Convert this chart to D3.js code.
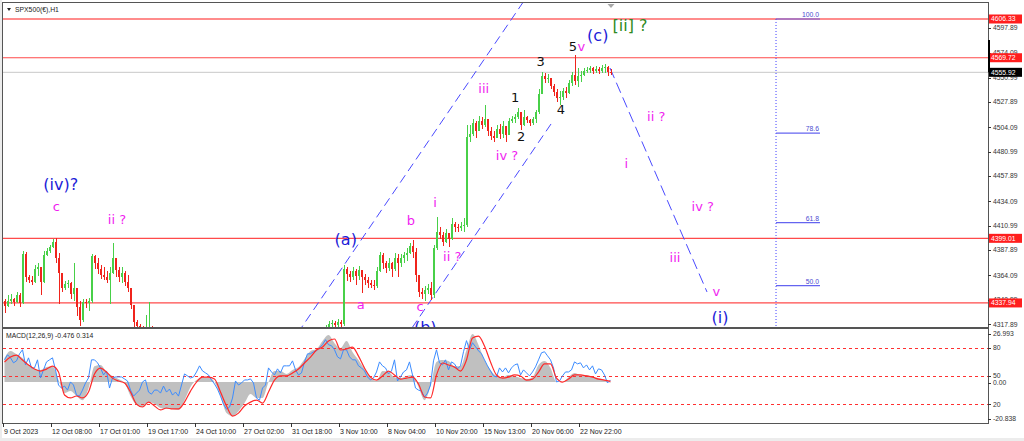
<!DOCTYPE html>
<html><head><meta charset="utf-8">
<script src="https://cdn.jsdelivr.net/npm/d3@7"></script>
<style>html,body{margin:0;padding:0;background:#fff;overflow:hidden}</style>
</head><body>
<svg id="c" width="1024" height="441"></svg>
<script>
// ---------------- DATA ----------------
const chartTitle = "SPX500(€),H1";
const macdTitle = "MACD(12,26,9) -0.476 0.314";
const xTickLabels = ["9 Oct 2023","12 Oct 08:00","17 Oct 01:00","19 Oct 17:00","24 Oct 10:00","27 Oct 02:00","31 Oct 18:00","3 Nov 10:00","8 Nov 04:00","10 Nov 20:00","15 Nov 13:00","20 Nov 06:00","22 Nov 22:00"];
const barsPerTick = 64;      // H1 bars between time labels
const barsPerCandle = 4;     // each drawn candle = 4 H1 bars
const priceTicks = [4317.89,4340.99,4364.09,4387.89,4410.99,4434.09,4457.89,4480.99,4504.09,4527.89,4550.99,4574.09,4597.89];
const hLevels = [4606.33,4569.72,4399.01,4337.94];
const bidPrice = 4555.92;

const closes = [
4335,4340,4342,4339,4345,4338,4384,4362,4360,4358,
4370,4372,4358,4383,4387,4391,4396,4380,4366,4352,
4356,4357,4346,4352,4334,4322,4339,4338,4340,4382,
4376,4370,4364,4362,4360,4366,4380,4369,4362,4366,
4358,4352,4336,4320,4316,4310,4306,4312,4314,4300,
4295,4290,4285,4275,4270,4265,4262,4258,4250,4245,
4240,4242,4248,4255,4252,4245,4235,4225,4215,4200,
4190,4180,4170,4160,4150,4140,4135,4145,4150,4140,
4130,4135,4145,4160,4165,4160,4170,4180,4185,4175,
4190,4200,4210,4215,4225,4235,4245,4255,4265,4275,
4285,4290,4296,4300,4305,4308,4312,4314,4318,4319,
4317,4320,4318,4370,4365,4362,4368,4363,4369,4362,
4360,4357,4355,4354,4368,4383,4376,4371,4376,4370,
4380,4376,4380,4383,4385,4392,4386,4364,4348,4346,
4350,4352,4345,4390,4405,4402,4396,4404,4398,4413,
4410,4409,4411,4412,4495,4498,4508,4500,4510,4506,
4512,4500,4496,4494,4502,4498,4505,4497,4510,4512,
4514,4518,4506,4514,4511,4508,4512,4518,4535,4552,
4550,4551,4543,4537,4532,4533,4538,4536,4546,4553,
4548,4552,4553,4557,4558,4560,4557,4559,4557,4560,
4561,4556,4555.92];
const highs = [
4342,4345,4346,4343,4348,4347,4387,4386,4364,4363,
4374,4376,4372,4387,4390,4393,4398,4399,4385,4366,
4359,4360,4358,4376,4352,4340,4342,4342,4343,4384,
4383,4380,4374,4372,4368,4372,4395,4380,4372,4372,
4368,4364,4352,4336,4322,4318,4316,4327,4339,4316,
4302,4297,4292,4287,4277,4272,4268,4264,4260,4252,
4247,4246,4252,4258,4258,4254,4247,4237,4227,4217,
4202,4192,4182,4172,4162,4152,4142,4148,4154,4152,
4142,4138,4148,4162,4168,4167,4172,4182,4188,4187,
4192,4202,4212,4218,4227,4237,4247,4257,4267,4277,
4287,4292,4298,4302,4307,4310,4314,4317,4321,4322,
4321,4323,4322,4374,4372,4368,4372,4370,4373,4368,
4365,4362,4360,4360,4372,4386,4385,4378,4380,4377,
4385,4384,4384,4386,4390,4395,4397,4390,4364,4352,
4354,4356,4358,4393,4419,4410,4405,4408,4404,4418,
4414,4413,4414,4418,4506,4506,4512,4510,4515,4514,
4525,4512,4504,4500,4506,4507,4510,4505,4513,4515,
4517,4522,4518,4520,4515,4512,4514,4520,4540,4556,
4555,4554,4551,4545,4540,4538,4541,4542,4549,4556,
4572,4560,4557,4560,4561,4562,4561,4562,4561,4563,
4564,4562,4559];
const lows = [
4328,4334,4337,4335,4338,4334,4337,4358,4357,4355,
4357,4363,4345,4357,4382,4385,4390,4376,4337,4348,
4350,4352,4342,4340,4326,4316,4320,4333,4330,4338,
4370,4365,4361,4360,4357,4337,4365,4362,4358,4357,
4354,4348,4332,4312,4308,4302,4300,4303,4300,4294,
4290,4284,4279,4270,4264,4259,4256,4252,4244,4239,
4234,4236,4240,4246,4246,4238,4228,4218,4208,4193,
4184,4174,4164,4154,4144,4134,4128,4132,4140,4134,
4124,4126,4133,4143,4158,4154,4158,4168,4176,4170,
4172,4186,4196,4206,4212,4222,4232,4242,4252,4262,
4272,4282,4288,4294,4298,4303,4306,4309,4311,4315,
4314,4315,4315,4316,4359,4358,4360,4355,4360,4347,
4355,4352,4352,4350,4352,4367,4370,4366,4368,4362,
4368,4362,4372,4376,4378,4384,4380,4358,4344,4342,
4340,4346,4341,4343,4388,4398,4392,4395,4391,4397,
4405,4405,4406,4405,4410,4490,4496,4494,4500,4502,
4504,4496,4492,4490,4494,4493,4494,4490,4497,4508,
4508,4512,4501,4505,4508,4505,4506,4508,4517,4535,
4546,4546,4540,4534,4528,4525,4530,4532,4535,4543,
4544,4542,4547,4552,4555,4555,4554,4555,4554,4555,
4555,4552,4553];
const firstOpen = 4340;

// MACD panel (values every 8 H1 bars)
const macdStep = 8;
const macdMain = [
12.2,15.8,14.2,12.2,8.7,6.6,6.1,7.6,8.1,1.0,
-5.6,-4.6,-7.1,-9.2,-3.1,8.1,8.7,5.1,3.1,1.5,
-0.5,-7.1,-11.7,-12.7,-10.2,-11.2,-13.2,-13.7,-13.7,-14.2,
-9.2,-2.5,1.0,2.5,2.5,0,-7.1,-15.8,-17.3,-14.8,
-10.7,-6.1,-8.1,-8.1,0,5.6,5.6,4.1,6.1,7.6,
11.7,15.8,16.8,20.9,23.9,19.8,17.3,20.9,15.3,11.2,
6.6,2.5,0.5,5.6,5.1,2.5,2.0,3.1,3.6,-2.5,
-9.2,-2.0,10.2,11.2,10.7,8.1,8.1,16.3,24.4,18.8,
11.2,6.1,3.1,2.5,3.6,3.1,2.0,1.5,2.5,8.7,
10.7,7.1,0,0,2.5,4.6,3.6,3.6,2.5,2.0,
1.0,-0.476];
const macdSignal = [
10.2,12.7,13.7,11.2,8.7,6.6,5.6,6.6,8.1,5.1,
-6.6,-8.1,-7.1,-8.1,-5.1,4.1,7.1,5.1,2.0,0.5,
-0.5,-5.1,-11.2,-12.7,-10.2,-12.2,-14.2,-13.2,-13.7,-13.7,
-10.2,-4.6,0,2.5,2.5,1.5,-5.1,-12.2,-17.3,-15.8,
-12.2,-10.2,-9.2,-10.7,-5.1,1.0,3.1,3.1,4.6,6.6,
9.7,12.7,16.3,17.8,20.9,21.9,16.3,16.8,17.8,13.2,
7.1,2.5,1.0,3.1,5.6,3.6,1.5,2.0,2.5,-1.0,
-7.6,-8.1,3.6,9.7,8.7,7.6,5.6,11.2,22.4,23.4,
18.3,10.2,3.6,2.0,2.5,3.6,3.1,1.0,1.5,5.1,
9.2,9.2,2.0,0,1.5,3.6,3.6,3.1,2.5,1.5,
1.0,0.314];
// oscillator (0-100) every 4 H1 bars
const oscValues = [
67.2,72.6,69.3,64.0,66.1,73.6,77.9,61.8,69.3,58.6,
58.6,67.2,47.9,56.5,65.0,67.2,69.3,56.5,40.4,37.2,
39.3,35.0,43.7,40.4,29.7,28.6,35.0,42.6,47.9,67.2,
67.2,64.0,58.6,51.1,55.4,37.2,47.9,49.0,49.0,49.0,
46.9,44.7,35.0,28.6,31.8,35.0,43.7,45.8,32.9,30.7,
35.0,35.0,31.8,39.3,32.9,36.1,29.7,32.9,28.6,40.4,
52.2,50.1,47.9,49.0,54.3,60.8,55.4,53.3,51.1,45.8,
41.5,36.1,28.6,20.0,14.7,16.8,26.5,44.7,40.4,42.6,
45.8,45.8,46.9,42.6,26.5,24.3,37.2,40.4,58.6,54.3,
51.1,57.6,53.3,60.8,60.8,60.8,66.1,56.5,51.1,53.3,
65.0,73.6,73.6,75.8,76.8,80.1,83.3,88.6,83.3,82.2,
77.9,70.4,68.2,77.9,77.9,70.4,67.2,67.2,60.8,58.6,
55.4,49.0,45.8,47.9,54.3,65.0,60.8,58.6,52.2,55.4,
67.2,44.7,49.0,54.3,56.5,65.0,51.1,37.2,35.0,34.0,
27.5,31.8,40.4,66.1,77.9,64.0,61.8,67.2,56.5,65.0,
62.9,57.6,60.8,75.8,87.6,77.9,85.4,81.2,76.8,73.6,
67.2,60.8,55.4,50.1,49.0,58.6,54.3,58.6,53.3,58.6,
61.8,62.9,51.1,56.5,53.3,50.1,54.3,59.7,67.2,74.7,
75.8,71.5,67.2,58.6,43.7,44.7,50.1,54.3,54.3,56.5,
65.0,62.9,64.0,58.6,61.8,56.5,60.8,52.2,57.6,56.5,
51.1,42.6,45.8];
const oscLevels = [80,50,20];
const macdMax = 26.993, macdMin = -20.838;

// wave annotations (H1 bar index, price)
const waveText  = ["(iv)?","c","ii ?","(a)","a","b","c","(b)","i","ii ?","iii","iv ?","1","2","3","4","5","v","(c)","[ii] ?","i","ii ?","iii","iv ?","v","(i)"];
const waveBar   = [77,71,152,457,477,544,556,563,576,599,641,672,683,691,717,744,760,771,793,836,831,871,896,933,951,956];
const wavePrice = [4449.4,4428.6,4416.4,4397.4,4336.0,4415.4,4334.1,4315,4432.4,4381.4,4540.2,4476.8,4531.7,4494.8,4565.7,4520.3,4579.9,4579.9,4590.3,4599.7,4469.3,4513.7,4380.4,4428.6,4348.3,4323.7];
const waveDegree = ["B","m","m","B","m","m","m","B","m","m","m","m","k","k","k","k","k","m","B","G","m","m","m","m","m","B"];

// trend lines (H1 bar, price)
const channelLines = [
  [[393,4309.5],[700,4629]],
  [[545.3,4314.3],[730.7,4507.1]]
];
const projectionLine = [[809.3,4560.0],[938.7,4348.3]];

// Fibonacci
const fibLevels = [50.0,61.8,78.6,100.0];
const fibLow = 4102.3, fibHigh = 4606.33;
const fibBar = 1030.7, fibBarEnd = 1089.3;

// ---------------- DRAW ----------------
const svg = d3.select("#c");
const L=3, R=988, T=3, B=327, MT=329, MB=423;
const totalBars = 1313.33;
const x = d3.scaleLinear().domain([0,totalBars]).range([L,R]);
const y = d3.scaleLinear().domain([4315.2,4621.45]).range([B,T]);
const yM = d3.scaleLinear().domain([macdMin,macdMax]).range([MB,MT]);
const yO = d3.scaleLinear().domain([0,100]).range([MB,MT]);
const AX = "'Liberation Sans', Arial, sans-serif";
const LBL = "'DejaVu Sans', Verdana, sans-serif";

svg.append("rect").attr("width",1024).attr("height",441).attr("fill","#fff");
svg.append("rect").attr("x",0).attr("y",438).attr("width",1024).attr("height",3).attr("fill","#ececec");
svg.append("rect").attr("x",0).attr("y",0).attr("width",2).attr("height",438).attr("fill","#ececec");

const defs = svg.append("defs");
defs.append("clipPath").attr("id","cm").append("rect").attr("x",L).attr("y",T).attr("width",R-L).attr("height",B-T);
defs.append("clipPath").attr("id","cd").append("rect").attr("x",L).attr("y",MT).attr("width",R-L).attr("height",MB-MT);

const gm = svg.append("g").attr("clip-path","url(#cm)");

// horizontal red levels
gm.selectAll("line.hl").data(hLevels).join("line")
  .attr("x1",L).attr("x2",R)
  .attr("y1",d=>y(d)).attr("y2",d=>y(d))
  .attr("stroke",(d,i)=> i===0 ? "#ff8c8c" : "#ff4a4a")
  .attr("stroke-width",(d,i)=> i===0 ? 2 : 1.2);
// bid line
gm.append("line").attr("x1",L).attr("x2",R).attr("y1",y(bidPrice)).attr("y2",y(bidPrice))
  .attr("stroke","#c8c8c8").attr("stroke-width",1);

// fibonacci
gm.append("line").attr("x1",x(fibBar)).attr("x2",x(fibBar)).attr("y1",y(fibHigh)).attr("y2",B)
  .attr("stroke","#3c3cff").attr("stroke-dasharray","1,2").attr("stroke-width",1);
const fibPrice = p => fibLow + (fibHigh-fibLow)*p/100;
gm.selectAll("line.fib").data(fibLevels).join("line")
  .attr("x1",x(fibBar)).attr("x2",x(fibBarEnd))
  .attr("y1",d=>y(fibPrice(d))).attr("y2",d=>y(fibPrice(d)))
  .attr("stroke","#6464f0").attr("stroke-width",1.2);
gm.selectAll("text.fib").data(fibLevels).join("text")
  .attr("x",x(fibBarEnd)-1).attr("y",d=>y(fibPrice(d))-2)
  .attr("text-anchor","end").attr("font-family",AX).attr("font-size",6.8)
  .attr("fill","#4b4bd0").text(d=>d.toFixed(1));

// channel & projection lines
const ln = d3.line().x(d=>x(d[0])).y(d=>y(d[1]));
gm.selectAll("path.ch").data(channelLines).join("path")
  .attr("d",ln).attr("fill","none").attr("stroke","#4a4aff").attr("stroke-width",1).attr("stroke-dasharray","9,5");
gm.append("path").attr("d",ln(projectionLine)).attr("fill","none")
  .attr("stroke","#4a4aff").attr("stroke-width",1).attr("stroke-dasharray","11,5");

// candles
const candles = closes.map((c,j)=>({
  h: barsPerCandle*j + barsPerCandle/2,
  o: j===0 ? firstOpen : closes[j-1],
  c: c, hi: highs[j], lo: lows[j]
}));
const cg = gm.append("g").attr("shape-rendering","crispEdges");
const green = "#48d048", red = "#f0241c";
cg.selectAll("rect.w").data(candles).join("rect")
  .attr("x",d=>Math.round(x(d.h)))
  .attr("width",1)
  .attr("y",d=>y(Math.max(d.hi,d.o,d.c)))
  .attr("height",d=>Math.max(1,y(Math.min(d.lo,d.o,d.c))-y(Math.max(d.hi,d.o,d.c))))
  .attr("fill",d=>d.c>=d.o?green:red);
cg.selectAll("rect.b").data(candles).join("rect")
  .attr("x",d=>Math.round(x(d.h))-1)
  .attr("width",2)
  .attr("y",d=>y(Math.max(d.o,d.c)))
  .attr("height",d=>Math.max(1,Math.abs(y(d.o)-y(d.c))))
  .attr("fill",d=>d.c>=d.o?green:red);

// wave labels
const waveStyle = {
  B:{fill:"#1c1cd8",size:16},
  m:{fill:"#f01ef0",size:13},
  k:{fill:"#111",size:13},
  G:{fill:"#2e8a22",size:16}
};
gm.selectAll("text.wv").data(waveText).join("text")
  .attr("x",(d,i)=>x(waveBar[i])).attr("y",(d,i)=>y(wavePrice[i]))
  .attr("dy","0.34em").attr("text-anchor","middle")
  .attr("font-family",LBL)
  .attr("font-size",(d,i)=>waveStyle[waveDegree[i]].size)
  .attr("fill",(d,i)=>waveStyle[waveDegree[i]].fill)
  .text(d=>d);

// title & shift marker
svg.append("path").attr("d","M7,8 L11,8 L9,11 Z").attr("fill","#222");
svg.append("text").attr("x",15).attr("y",12).attr("font-family",AX).attr("font-size",6.8).attr("fill","#222").text(chartTitle);
svg.append("path").attr("d",`M${x(810)-3},4 L${x(810)+4},4 L${x(810)+0.5},8 Z`).attr("fill","#a8a8a8");

// main frame
svg.append("rect").attr("x",L-0.5).attr("y",T-0.5).attr("width",R-L+1).attr("height",B-T+1)
  .attr("fill","none").attr("stroke","#555").attr("stroke-width",1);

// price axis
const pa = svg.append("g");
pa.selectAll("line").data(priceTicks).join("line")
  .attr("x1",R).attr("x2",R+3).attr("y1",d=>Math.round(y(d))+0.5).attr("y2",d=>Math.round(y(d))+0.5)
  .attr("stroke","#333");
pa.selectAll("text").data(priceTicks).join("text")
  .attr("x",R+5).attr("y",d=>y(d)).attr("dy","0.35em")
  .attr("font-family",AX).attr("font-size",6.8).attr("fill","#333").text(d=>d.toFixed(2));
// price tags
const tags = hLevels.map(v=>({v, bg:"#ff1e1e"})).concat([{v:bidPrice,bg:"#000"}]);
const tg = svg.append("g");
tg.selectAll("rect").data(tags).join("rect")
  .attr("x",R+1).attr("y",d=>y(d.v)-4.5).attr("width",33).attr("height",9).attr("fill",d=>d.bg);
tg.selectAll("text").data(tags).join("text")
  .attr("x",R+3).attr("y",d=>y(d.v)).attr("dy","0.35em")
  .attr("font-family",AX).attr("font-size",6.8).attr("fill","#fff").text(d=>d.v.toFixed(2));
svg.append("rect").attr("x",R).attr("y",40).attr("width",2).attr("height",y(bidPrice)-40).attr("fill","#000");

// ---------------- MACD panel ----------------
const gd = svg.append("g").attr("clip-path","url(#cd)");
const mPts = macdMain.map((v,k)=>({h:macdStep*k+2, v}));
const sPts = macdSignal.map((v,k)=>({h:macdStep*k+2, v}));
const oPts = oscValues.map((v,j)=>({h:barsPerCandle*j+2, v}));
gd.append("path").datum(mPts)
  .attr("d",d3.area().x(d=>x(d.h)).y0(yM(0)).y1(d=>yM(d.v)).curve(d3.curveMonotoneX))
  .attr("fill","#c0c0c0");
gd.selectAll("line.lv").data(oscLevels).join("line")
  .attr("x1",L).attr("x2",R).attr("y1",d=>Math.round(yO(d))+0.5).attr("y2",d=>Math.round(yO(d))+0.5)
  .attr("stroke","#ff3030").attr("stroke-dasharray","3,3").attr("stroke-width",1);
gd.append("path").datum(oPts)
  .attr("d",d3.line().x(d=>x(d.h)).y(d=>yO(d.v)))
  .attr("fill","none").attr("stroke","#3b8cff").attr("stroke-width",1);
gd.append("path").datum(sPts)
  .attr("d",d3.line().x(d=>x(d.h)).y(d=>yM(d.v)).curve(d3.curveMonotoneX))
  .attr("fill","none").attr("stroke","#ff2a2a").attr("stroke-width",1.2);
svg.append("text").attr("x",6).attr("y",338).attr("font-family",AX).attr("font-size",6.8).attr("fill","#222").text(macdTitle);
svg.append("rect").attr("x",L-0.5).attr("y",MT-0.5).attr("width",R-L+1).attr("height",MB-MT+1)
  .attr("fill","none").attr("stroke","#555").attr("stroke-width",1);

// MACD axis labels
const macdAxis = [
  {t:macdMax.toFixed(3), y:MT+5},
  ...oscLevels.map(v=>({t:String(v), y:yO(v)})),
  {t:(0).toFixed(2), y:yM(0)+1},
  {t:macdMin.toFixed(3), y:MB-4}
];
const ma = svg.append("g");
ma.selectAll("line").data(macdAxis).join("line")
  .attr("x1",R).attr("x2",R+3).attr("y1",d=>Math.round(d.y)+0.5).attr("y2",d=>Math.round(d.y)+0.5).attr("stroke","#333");
ma.selectAll("text").data(macdAxis).join("text")
  .attr("x",R+5).attr("y",d=>d.y).attr("dy","0.35em")
  .attr("font-family",AX).attr("font-size",6.8).attr("fill","#333").text(d=>d.t);

// time axis
const ta = svg.append("g");
ta.selectAll("line").data(xTickLabels).join("line")
  .attr("x1",(d,i)=>Math.round(x(i*barsPerTick))+0.5).attr("x2",(d,i)=>Math.round(x(i*barsPerTick))+0.5)
  .attr("y1",MB).attr("y2",MB+4).attr("stroke","#333");
ta.selectAll("text").data(xTickLabels).join("text")
  .attr("x",(d,i)=>x(i*barsPerTick)+1).attr("y",434)
  .attr("font-family",AX).attr("font-size",7).attr("fill","#222").text(d=>d);
</script>
</body></html>
